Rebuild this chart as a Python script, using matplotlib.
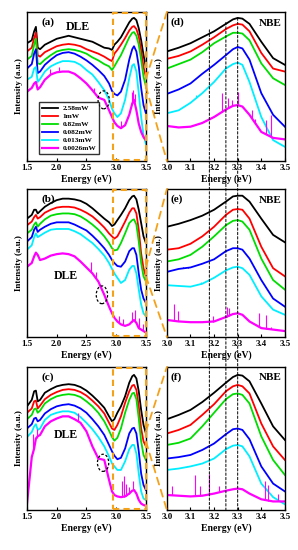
import numpy as np
import matplotlib
matplotlib.use("Agg")
import matplotlib.pyplot as plt
from matplotlib.patches import Rectangle, Ellipse, ConnectionPatch

plt.rcParams['font.family'] = ['Liberation Serif', 'DejaVu Serif']
plt.rcParams['font.weight'] = 'bold'

# ---------------- data ----------------
powers = ["2.58mW", "1mW", "0.82mW", "0.082mW", "0.013mW", "0.0026mW"]
colors = ["#000000", "#FF0000", "#00DD00", "#0000FF", "#00EEFF", "#FF00FF"]

E_dle = [1.50, 1.58, 1.62, 1.65, 1.68, 1.72, 1.80, 1.90, 2.00, 2.10, 2.20, 2.30, 2.40,
         2.50, 2.60, 2.70, 2.80, 2.88, 2.93, 2.97, 3.02, 3.08, 3.15, 3.22, 3.27, 3.30,
         3.34, 3.38, 3.42, 3.46, 3.50]

panel_a = [
    [79, 81, 87, 90, 76, 75, 78, 80, 82, 83, 84, 83, 82, 81, 80, 78, 76, 75.5, 74.5, 78, 80, 83, 88, 93, 95.5, 96, 94.5, 89, 81, 71, 63],
    [73.5, 76, 82.5, 86, 71, 70, 73, 75, 77, 78, 78.5, 78, 77, 75, 73.5, 72, 70, 68, 67, 72, 74.5, 78, 82.5, 87.5, 90, 90.5, 88.5, 83.5, 74.5, 63, 56.5],
    [68, 70.5, 78, 82, 65.5, 65, 68, 71, 73.5, 74.5, 75, 74.5, 73.5, 72, 69.5, 67.5, 65, 63.5, 61, 63.5, 67, 71, 77, 83, 86, 86.5, 84, 78, 68, 56.5, 50],
    [62, 65, 72, 75, 59, 60, 64.5, 68, 71, 72.5, 73, 72, 70, 67.5, 64.5, 61, 57, 52, 47, 45, 44, 46.5, 54.5, 68, 75, 77, 73.5, 63.5, 49, 37.5, 32],
    [54.5, 56.5, 62, 63, 53, 55, 60, 63.5, 65.5, 67, 67, 66.5, 64.5, 61, 58, 53, 47.5, 41, 35, 32, 29.5, 32, 41, 55.5, 64, 65, 60, 45.5, 29.5, 17, 11.5],
    [46.5, 49, 52, 53, 48, 49.5, 54.5, 58, 59.5, 60, 60, 58.5, 55.5, 52, 47.5, 42.5, 41, 34, 29.5, 26, 23.5, 22, 24, 31, 38.5, 41, 34, 25, 19.5, 16, 14],
]
panel_b = [
    [80, 82.5, 86, 86, 83.5, 85, 88, 90.5, 92.5, 93.5, 93.5, 93, 92, 90, 87, 83.5, 80, 77.5, 75, 76, 79, 82.5, 87, 92.5, 95, 95.5, 93, 86, 77, 68, 63.5],
    [75.5, 78, 81, 82.5, 80, 81, 84, 86, 87.5, 88, 88, 87.5, 86, 84, 81.5, 78, 74, 70, 68, 66.5, 68, 72.5, 78, 84, 87, 87, 83.5, 72.5, 56.5, 46.5, 41],
    [70, 72.5, 76, 77.5, 74.5, 76.5, 79.5, 82, 83, 83.5, 83.5, 83, 81.5, 79, 76, 72.5, 68, 63.5, 60, 58.5, 59, 63.5, 70, 77, 79, 79.5, 76, 64.5, 50, 41, 37.5],
    [64.5, 67.5, 72.5, 74.5, 71, 72.5, 74.5, 76.5, 77.5, 77.5, 77.5, 76, 74, 72, 68.5, 64.5, 60, 55.5, 52, 50, 48, 47.5, 51, 58, 60, 60, 55.5, 43, 32, 26, 23],
    [59, 62, 67.5, 70, 67.5, 68.5, 70.5, 72.5, 73, 73, 73, 71.5, 69.5, 66.5, 63.5, 59.5, 55, 50, 46, 43, 40, 36.5, 38.5, 45.5, 48, 48, 43, 32, 22, 16, 14],
    [47.5, 50, 54.5, 57, 55.5, 52, 53, 55, 56, 56.5, 56, 54.5, 51, 47, 43, 37.5, 28.5, 20.5, 16, 13, 10.5, 8.5, 7.5, 8.5, 10.5, 11.5, 9.5, 6, 5, 4, 3],
]
panel_c = [
    [72.5, 77, 83, 83.5, 76, 77, 82, 84.5, 86.5, 87.5, 88, 87.5, 86, 83.5, 80, 76, 71.5, 65.5, 62, 63.5, 68, 72.5, 79.5, 89, 93.5, 94.5, 92, 83, 70, 59.5, 53.5],
    [68, 71, 76, 76.5, 71, 73, 77.5, 80.5, 82.5, 84, 84.5, 84, 82.5, 80, 76.5, 72.5, 67.5, 61, 57, 56, 59.5, 65.5, 75, 83, 87, 87.5, 84, 72.5, 57, 48, 44.5],
    [63.5, 66.5, 70.5, 71, 68, 69.5, 74.5, 77.5, 79.5, 80.5, 81, 80.5, 79, 76, 72.5, 68, 62, 55.5, 51, 48.5, 50.5, 57, 68, 77, 81.5, 82, 77.5, 64, 48, 38.5, 35],
    [57, 60, 64, 64.5, 62, 63, 67.5, 70.5, 72.5, 73.5, 74, 73, 71, 68, 63.5, 58.5, 52.5, 45.5, 41, 38, 35.5, 36.5, 43, 53.5, 57, 57.5, 53.5, 41, 25.5, 17.5, 14],
    [51, 54.5, 58.5, 60, 56, 57, 63, 66.5, 68, 69, 69, 68, 65, 61, 56.5, 51, 44.5, 37.5, 32.5, 30.5, 28, 28, 34, 42.5, 45.5, 45.5, 39.5, 25.5, 13, 8, 7],
    [4.5, 37, 43, 50, 51.5, 52.5, 58.5, 62, 64, 65.5, 65.5, 63.5, 61, 55, 44.5, 36, 35, 21, 13, 10.5, 9.5, 9, 9.5, 11.5, 13.5, 14, 11.5, 7, 4.5, 3.5, 3],
]

E_nbe = [3.00, 3.05, 3.10, 3.15, 3.20, 3.25, 3.28, 3.30, 3.32, 3.35, 3.40, 3.45, 3.50]
panel_d = [
    [73.5, 76, 79, 83, 87, 92, 95, 96, 95.5, 92, 80, 69, 64.5],
    [68.5, 70.5, 73.5, 78, 83, 88.5, 91, 92, 91.5, 87, 72.5, 62, 60],
    [62, 65, 68, 73, 79, 83.5, 86, 86, 85.5, 81, 65.5, 55.5, 51],
    [45, 48, 52, 58.5, 64.5, 71, 75, 76.5, 75.5, 68, 45.5, 31, 23],
    [32, 34, 39, 45.5, 53, 62, 65, 66, 64.5, 53, 29.5, 14, 9.5],
    [23.5, 22.5, 23, 25.5, 29.5, 34.5, 37, 37.5, 36.5, 31, 19.5, 15.5, 14.5],
]
panel_e = [
    [74.5, 76.5, 79, 82, 86, 91.5, 95, 95.5, 95.5, 91.5, 80, 69, 64],
    [59, 60, 63, 68, 74.5, 82.5, 86, 86.5, 86, 80, 61, 46.5, 41],
    [51, 52.5, 55.5, 61, 68, 75.5, 78.5, 79, 78, 72.5, 53, 38.5, 32],
    [44, 46, 47, 49.5, 52.5, 58, 60, 60, 59, 53, 38.5, 26, 20.5],
    [35, 34.5, 34, 36, 40, 45, 47, 47.5, 46.5, 42, 27.5, 18.5, 15],
    [11.5, 10.5, 10, 10, 10.5, 13.5, 15.5, 16, 15, 10.5, 6, 5, 4],
]
panel_f = [
    [63.5, 66.5, 70, 75.5, 82, 89, 93, 94.5, 94, 90, 74.5, 58.5, 49],
    [53.5, 56, 59.5, 66.5, 74, 83, 86.5, 87.5, 86.5, 81.5, 60.5, 44.5, 35],
    [45.5, 47, 50, 58.5, 68, 77.5, 81, 81.5, 80.5, 74.5, 51.5, 35, 24.5],
    [36, 37, 38.5, 42, 46.5, 53, 56.5, 57, 56, 49.5, 30.5, 18.5, 13],
    [28, 29, 30.5, 32.5, 36, 42.5, 45, 45.5, 44.5, 37.5, 18.5, 9, 4],
    [10.5, 10, 9.5, 10, 11.5, 13.5, 14.5, 15, 14.5, 11.5, 7.5, 6, 6],
]

# noise spikes (energy, top value) on the weakest curves
spikes_a_mag = [(1.89, 62), (2.03, 63), (2.62, 49), (3.08, 27), (3.27, 46), (3.29, 47.5), (3.31, 45)]
spikes_b_mag = [(2.58, 51), (2.66, 44), (3.05, 14), (3.12, 12), (3.26, 17), (3.31, 18), (3.38, 13), (3.45, 9)]
spikes_c_mag = [(1.60, 53), (1.66, 57), (2.36, 68), (3.10, 20), (3.14, 24), (3.17, 18), (3.21, 16), (3.29, 20)]
spikes_d_mag = [(3.235, 45.5), (3.26, 42), (3.275, 41), (3.30, 46.5), (3.36, 34), (3.375, 28.5), (3.42, 27.5), (3.44, 31)]
spikes_d_cyan = [(3.125, 44)]
spikes_e_mag = [(3.03, 22), (3.045, 17.5), (3.195, 14), (3.255, 20.5), (3.265, 19.5), (3.39, 16.5), (3.42, 15), (3.44, 7)]
spikes_e_blue = [(3.07, 47.5), (3.09, 47.5), (3.10, 47)]
spikes_e_cyan = [(3.145, 37.5)]
spikes_f_mag = [(3.02, 17), (3.12, 24.5), (3.14, 17), (3.18, 25), (3.22, 17), (3.415, 20.5), (3.43, 17.5), (3.47, 11)]
spikes_f_cyan = [(3.14, 32.5)]

circles = [(2.79, 41), (2.76, 28.5), (2.78, 33)]
dle_text = [(2.36, 90), (2.16, 41), (2.16, 52.5)]
ref_lines = [3.18, 3.25, 3.30]
ref_tops = [88, 93, 96]

ORANGE = "#F5A21B"

# ---------------- figure ----------------
fig = plt.figure(figsize=(2.98, 5.50), dpi=100)
rows = [(0.7073, 0.271), (0.3873, 0.269), (0.0727, 0.260)]
left_axes, right_axes = [], []
for b, h in rows:
    left_axes.append(fig.add_axes([0.0906, b, 0.399, h]))
    right_axes.append(fig.add_axes([0.560, b, 0.396, h]))

left_data = [panel_a, panel_b, panel_c]
right_data = [panel_d, panel_e, panel_f]
left_spikes = [[(spikes_a_mag, 5)], [(spikes_b_mag, 5)], [(spikes_c_mag, 5)]]
right_spikes = [[(spikes_d_mag, 5), (spikes_d_cyan, 4)],
                [(spikes_e_mag, 5), (spikes_e_blue, 3), (spikes_e_cyan, 4)],
                [(spikes_f_mag, 5), (spikes_f_cyan, 4)]]
left_labels = ["(a)", "(b)", "(c)"]
right_labels = ["(d)", "(e)", "(f)"]
conn_y = [(0.55, 0.50), (0.47, 0.41), (0.55, 0.48)]


def style_axis(ax, xlim, xticks):
    ax.set_xlim(*xlim)
    ax.set_ylim(0, 100)
    ax.set_xticks(xticks)
    ax.set_xticklabels([f"{t:.1f}" for t in xticks], fontsize=6.5, fontweight='bold')
    ax.set_yticks([])
    ax.tick_params(axis='x', direction='in', length=2, pad=2)
    for s in ax.spines.values():
        s.set_linewidth(1.0)
    ax.set_xlabel("Energy (eV)", fontsize=7, fontweight='bold', labelpad=2)
    ax.set_ylabel("Intensity (a.u.)", fontsize=6.5, fontweight='bold', labelpad=3)


def draw_spikes(ax, E, curves, spikes):
    for sp, idx in spikes:
        for x, top in sp:
            base = np.interp(x, E, curves[idx])
            ax.vlines(x, base, top, color=colors[idx], lw=0.8)


for i in range(3):
    axL, axR = left_axes[i], right_axes[i]
    for k, (y, c) in enumerate(zip(left_data[i], colors)):
        axL.plot(E_dle, y, color=c, lw=1.6 if k == 5 else 1.3, label=powers[k])
    draw_spikes(axL, E_dle, left_data[i], left_spikes[i])
    for k, (y, c) in enumerate(zip(right_data[i], colors)):
        axR.plot(E_nbe, y, color=c, lw=1.6 if k == 5 else 1.3)
    draw_spikes(axR, E_nbe, right_data[i], right_spikes[i])

    style_axis(axL, (1.5, 3.5), [1.5, 2.0, 2.5, 3.0, 3.5])
    style_axis(axR, (3.0, 3.5), [3.0, 3.1, 3.2, 3.3, 3.4, 3.5])

    axL.text(0.12, 0.93, left_labels[i], transform=axL.transAxes, fontsize=8,
             fontweight='bold', va='center')
    axR.text(0.03, 0.93, right_labels[i], transform=axR.transAxes, fontsize=8,
             fontweight='bold', va='center')
    axR.text(3.44, 92.5, "NBE", fontsize=8, fontweight='bold', ha='center', va='center')
    tx, ty = dle_text[i]
    axL.text(tx, ty, "DLE", fontsize=8.5, fontweight='bold', ha='center', va='center')

    cx, cy = circles[i]
    axL.add_patch(Ellipse((cx, cy), 0.19, 12, fill=False, ec='black', lw=0.9,
                          ls=(0, (2, 1.5)), zorder=5))

    trL = axL.get_xaxis_transform()
    axL.add_patch(Rectangle((2.95, 0.005), 0.545, 0.99, transform=trL, fill=False,
                            ec=ORANGE, lw=1.5, ls=(0, (3, 2)), zorder=6, clip_on=False))
    trR = axR.get_xaxis_transform()
    y1, y2 = conn_y[i]
    for yl, yr in [(y1, 1.0), (y2, 0.0)]:
        cp = ConnectionPatch((3.5, yl), (3.0, yr), coordsA=trL, coordsB=trR,
                             color=ORANGE, lw=1.3, ls=(0, (4, 3)))
        fig.add_artist(cp)

left_axes[0].legend(loc='lower left', bbox_to_anchor=(0.07, 0.02), fontsize=5.3,
                    frameon=True, fancybox=False, edgecolor='black', handlelength=2.2,
                    handletextpad=0.6, borderpad=0.4, labelspacing=0.25,
                    prop={'weight': 'bold', 'size': 5.3})

for x, top in zip(ref_lines, ref_tops):
    cp = ConnectionPatch((x, top), (x, 0), coordsA=right_axes[0].transData,
                         coordsB=right_axes[2].transData, color='black', lw=0.7,
                         ls=(0, (2.5, 2)), zorder=10)
    fig.add_artist(cp)

fig.savefig("out.png", dpi=100)
